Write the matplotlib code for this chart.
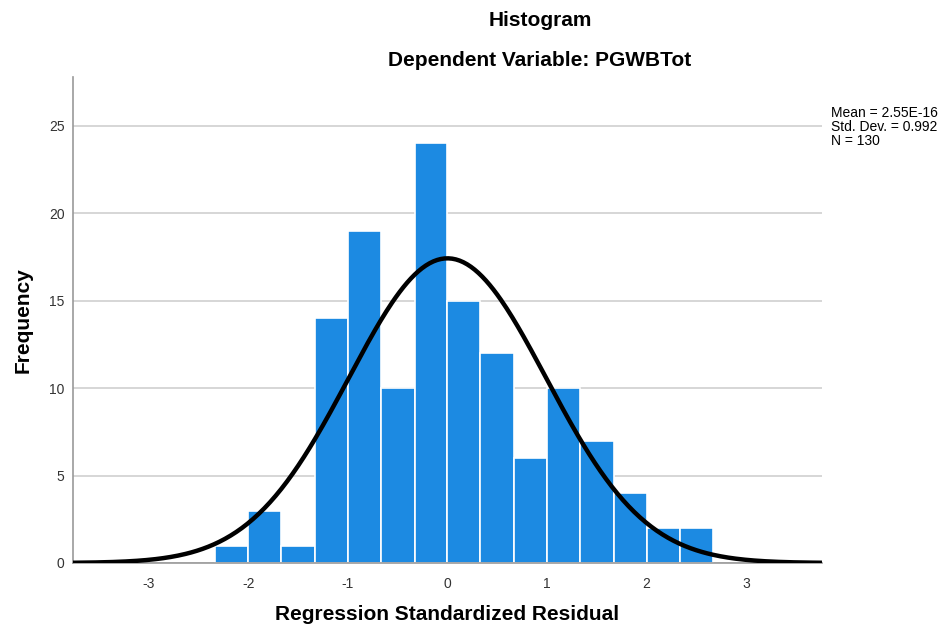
import numpy as np
import matplotlib.pyplot as plt

plt.rcParams['font.family'] = ['Liberation Sans', 'DejaVu Sans']
plt.rcParams['axes.unicode_minus'] = False

# 直方图数据（标准化残差）
bin_edges = [-2.33, -2.0, -1.67, -1.33, -1.0, -0.67, -0.33, 0.0,
             0.33, 0.67, 1.0, 1.33, 1.67, 2.0, 2.33, 2.67]
counts = [1, 3, 1, 14, 19, 10, 24, 15, 12, 6, 10, 7, 4, 2, 2]
mean = 2.55e-16
std = 0.992
n = 130

fig = plt.figure(figsize=(9.45, 6.33), dpi=100)
ax = fig.add_axes([0.0772, 0.1106, 0.7926, 0.7678])

widths = np.diff(bin_edges)
ax.bar(bin_edges[:-1], counts, width=widths, align='edge',
       color='#1c8ae2', edgecolor='white', linewidth=1.2, zorder=2)

# 正态曲线
bw = widths.mean()
xs = np.linspace(-3.76, 3.76, 400)
ys = n * bw * np.exp(-0.5 * ((xs - mean) / std) ** 2) / (std * np.sqrt(2 * np.pi))
ax.plot(xs, ys, color='black', linewidth=3.2, zorder=3, solid_capstyle='butt')

ax.set_xlim(-3.76, 3.76)
ax.set_ylim(0, 27.8)
ax.set_xticks([-3, -2, -1, 0, 1, 2, 3])
ax.set_yticks([0, 5, 10, 15, 20, 25])
ax.tick_params(length=0, labelsize=10, colors='#333333', pad=10)
ax.tick_params(axis='y', pad=6)

ax.grid(axis='y', color='#d0d0d0', linewidth=1.2, zorder=0)
ax.set_axisbelow(True)
for side in ['top', 'right']:
    ax.spines[side].set_visible(False)
for side in ['left', 'bottom']:
    ax.spines[side].set_color('#999999')
    ax.spines[side].set_linewidth(1.2)

ax.set_xlabel('Regression Standardized Residual', fontsize=15,
              fontweight='bold', labelpad=10)
ax.set_ylabel('Frequency', fontsize=15, fontweight='bold', labelpad=12)

fig.text(540 / 945, 1 - 21 / 633, 'Histogram', ha='center', va='center',
         fontsize=15, fontweight='bold')
fig.text(540 / 945, 1 - 60 / 633, 'Dependent Variable: PGWBTot',
         ha='center', va='center', fontsize=15, fontweight='bold')

fig.text(831 / 945, 1 - 106 / 633,
         'Mean = 2.55E-16\nStd. Dev. = 0.992\nN = 130',
         ha='left', va='top', fontsize=10, linespacing=1.0)

fig.savefig('out.png', dpi=100)
